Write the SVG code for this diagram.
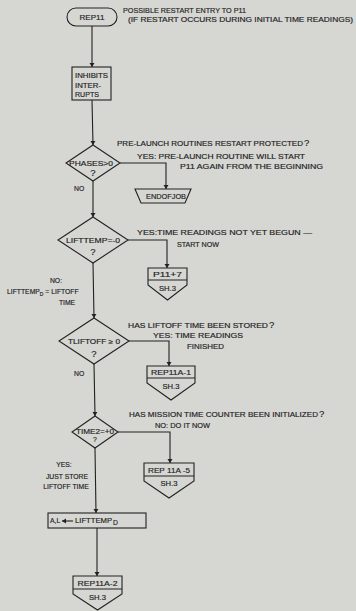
<svg xmlns="http://www.w3.org/2000/svg" width="356" height="611" viewBox="0 0 356 611">
  <defs>
    <marker id="arrow" markerUnits="userSpaceOnUse" markerWidth="4" markerHeight="6" refX="4" refY="3" orient="auto">
      <path d="M0,0.5 L4,3 L0,5.5 Z" fill="#222"/>
    </marker>
    <style>
      .bg { fill: #d6d6d3; }
      .shape { fill: none; stroke: #222; stroke-width: 1.1; }
      .conn { fill: none; stroke: #222; stroke-width: 1.1; marker-end: url(#arrow); }
      text { font-family: "Liberation Sans", "DejaVu Sans", sans-serif; fill: #222; stroke: #222; stroke-width: 0.15; font-size: 6.8px; }
      .c { text-anchor: middle; }
      .q { font-size: 9.5px; }
      .lbl { font-size: 7px; }
    </style>
  </defs>

  <rect class="bg" x="0" y="0" width="356" height="611"/>

  <!-- flow lines -->
  <g id="connectors">
    <path class="conn" d="M92,26 V67"/>
    <path class="conn" d="M92,100 L93,145"/>
    <path class="conn" d="M120,163 H166 V189"/>
    <path class="conn" d="M93,181 V217"/>
    <path class="conn" d="M128,240 H167 V268"/>
    <path class="conn" d="M93,263 L94,318"/>
    <path class="conn" d="M129,341 H169 V366"/>
    <path class="conn" d="M94,364 L95,416"/>
    <path class="conn" d="M118,432 H170 V463"/>
    <path class="conn" d="M95,448 L96,513"/>
    <path class="conn" d="M97,528 V576"/>
  </g>

  <!-- entry point -->
  <g id="rep11">
    <rect class="shape" x="67" y="8" width="50" height="18" rx="9"/>
    <text class="c lbl" x="92" y="19.5" textLength="25" lengthAdjust="spacingAndGlyphs">REP11</text>
  </g>
  <g id="note-restart">
    <text x="123" y="12.5" textLength="123" lengthAdjust="spacingAndGlyphs">POSSIBLE RESTART ENTRY TO P11</text>
    <text x="128" y="22" textLength="225" lengthAdjust="spacingAndGlyphs">(IF RESTART OCCURS DURING INITIAL TIME READINGS)</text>
  </g>

  <g id="inhibit">
    <rect class="shape" x="72" y="67" width="39" height="33"/>
    <text x="75" y="78" textLength="33" lengthAdjust="spacingAndGlyphs">INHIBITS</text>
    <text x="75" y="87.5" textLength="26" lengthAdjust="spacingAndGlyphs">INTER-</text>
    <text x="75" y="97" textLength="24" lengthAdjust="spacingAndGlyphs">RUPTS</text>
  </g>

  <!-- PHASES > 0 test -->
  <g id="phases">
    <polygon class="shape" points="93,145 120,163 93,181 66,163"/>
    <text class="c" x="91" y="165.5" textLength="44" lengthAdjust="spacingAndGlyphs">PHASES&gt;0</text>
    <text class="c q" x="93" y="175.5">?</text>
    <text x="117" y="145.5" textLength="186" lengthAdjust="spacingAndGlyphs">PRE-LAUNCH ROUTINES RESTART PROTECTED</text>
    <text class="q" x="304" y="146">?</text>
    <text x="137" y="158.5" textLength="168" lengthAdjust="spacingAndGlyphs">YES: PRE-LAUNCH ROUTINE WILL START</text>
    <text x="180" y="168.5" textLength="143" lengthAdjust="spacingAndGlyphs">P11 AGAIN FROM THE BEGINNING</text>
    <text x="74" y="190.5">NO</text>
  </g>

  <g id="endofjob">
    <polygon class="shape" points="135,189 191,189 185,203 141,203"/>
    <text class="c" x="166" y="199" textLength="40" lengthAdjust="spacingAndGlyphs">ENDOFJOB</text>
  </g>

  <!-- LIFTTEMP = -0 test -->
  <g id="lifttemp">
    <polygon class="shape" points="93,217 128,240 93,263 58,240"/>
    <text class="c" x="93" y="242.5" textLength="54" lengthAdjust="spacingAndGlyphs">LIFTTEMP=-0</text>
    <text class="c q" x="93" y="254.5">?</text>
    <text x="137" y="234.5" textLength="175" lengthAdjust="spacingAndGlyphs">YES:TIME READINGS NOT YET BEGUN —</text>
    <text x="177" y="246.5" textLength="42" lengthAdjust="spacingAndGlyphs">START NOW</text>
    <text class="c" x="56" y="283">NO:</text>
    <text x="7" y="294">LIFTTEMP<tspan dy="2" font-size="5">D</tspan><tspan dy="-2"> = LIFTOFF</tspan></text>
    <text class="c" x="67" y="304.5">TIME</text>
  </g>

  <g id="p11-7">
    <path class="shape" d="M148,268 H187 V285 L167.5,300 L148,285 Z M148,280 H187"/>
    <text class="c lbl" x="167.5" y="277" textLength="29" lengthAdjust="spacingAndGlyphs">P11+7</text>
    <text class="c lbl" x="167.5" y="291" textLength="17" lengthAdjust="spacingAndGlyphs">SH.3</text>
  </g>

  <!-- TLIFTOFF >= 0 test -->
  <g id="tliftoff">
    <polygon class="shape" points="94,318 129,341 94,364 59,341"/>
    <text class="c" x="94" y="343.5" textLength="52" lengthAdjust="spacingAndGlyphs">TLIFTOFF ≥ 0</text>
    <text class="c q" x="94" y="356.5">?</text>
    <text x="128" y="327.5" textLength="140" lengthAdjust="spacingAndGlyphs">HAS LIFTOFF TIME BEEN STORED</text>
    <text class="q" x="269" y="328">?</text>
    <text x="153" y="337.5" textLength="90" lengthAdjust="spacingAndGlyphs">YES: TIME READINGS</text>
    <text x="187" y="348.5" textLength="37" lengthAdjust="spacingAndGlyphs">FINISHED</text>
    <text x="74" y="375.5">NO</text>
  </g>

  <g id="rep11a-1">
    <path class="shape" d="M147,366 H195 V383 L171,400 L147,383 Z M147,378 H195"/>
    <text class="c lbl" x="171" y="375" textLength="40" lengthAdjust="spacingAndGlyphs">REP11A-1</text>
    <text class="c lbl" x="171" y="389" textLength="17" lengthAdjust="spacingAndGlyphs">SH.3</text>
  </g>

  <!-- TIME2 = +0 test -->
  <g id="time2">
    <polygon class="shape" points="95,416 118,432 95,448 72,432"/>
    <text class="c" x="95" y="434" textLength="38" lengthAdjust="spacingAndGlyphs">TIME2=+0</text>
    <text class="c" x="95" y="442" font-size="8.5">?</text>
    <text x="129" y="416.5" textLength="189" lengthAdjust="spacingAndGlyphs">HAS MISSION TIME COUNTER BEEN INITIALIZED</text>
    <text class="q" x="319" y="417">?</text>
    <text x="155" y="428" textLength="55" lengthAdjust="spacingAndGlyphs">NO: DO IT NOW</text>
    <text class="c" x="64" y="467">YES:</text>
    <text class="c" x="67" y="478.5">JUST STORE</text>
    <text class="c" x="66" y="489">LIFTOFF TIME</text>
  </g>

  <g id="rep11a-5">
    <path class="shape" d="M144,463 H194 V481 L169,498 L144,481 Z M144,476 H194"/>
    <text class="c lbl" x="169" y="472.5" textLength="42" lengthAdjust="spacingAndGlyphs">REP 11A -5</text>
    <text class="c lbl" x="169" y="486" textLength="17" lengthAdjust="spacingAndGlyphs">SH.3</text>
  </g>

  <!-- A,L <- LIFTTEMP_D -->
  <g id="load-al">
    <rect class="shape" x="48" y="513" width="98" height="15"/>
    <text x="50" y="523">A,L</text>
    <path class="conn" d="M73,521 H62"/>
    <text x="75" y="523" textLength="37" lengthAdjust="spacingAndGlyphs">LIFTTEMP</text>
    <text x="113" y="525" font-size="5">D</text>
  </g>

  <g id="rep11a-2">
    <path class="shape" d="M73,576 H122 V594 L97.5,610 L73,594 Z M73,589 H122"/>
    <text class="c lbl" x="97.5" y="586" textLength="40" lengthAdjust="spacingAndGlyphs">REP11A-2</text>
    <text class="c lbl" x="97.5" y="599.5" textLength="17" lengthAdjust="spacingAndGlyphs">SH.3</text>
  </g>
</svg>
